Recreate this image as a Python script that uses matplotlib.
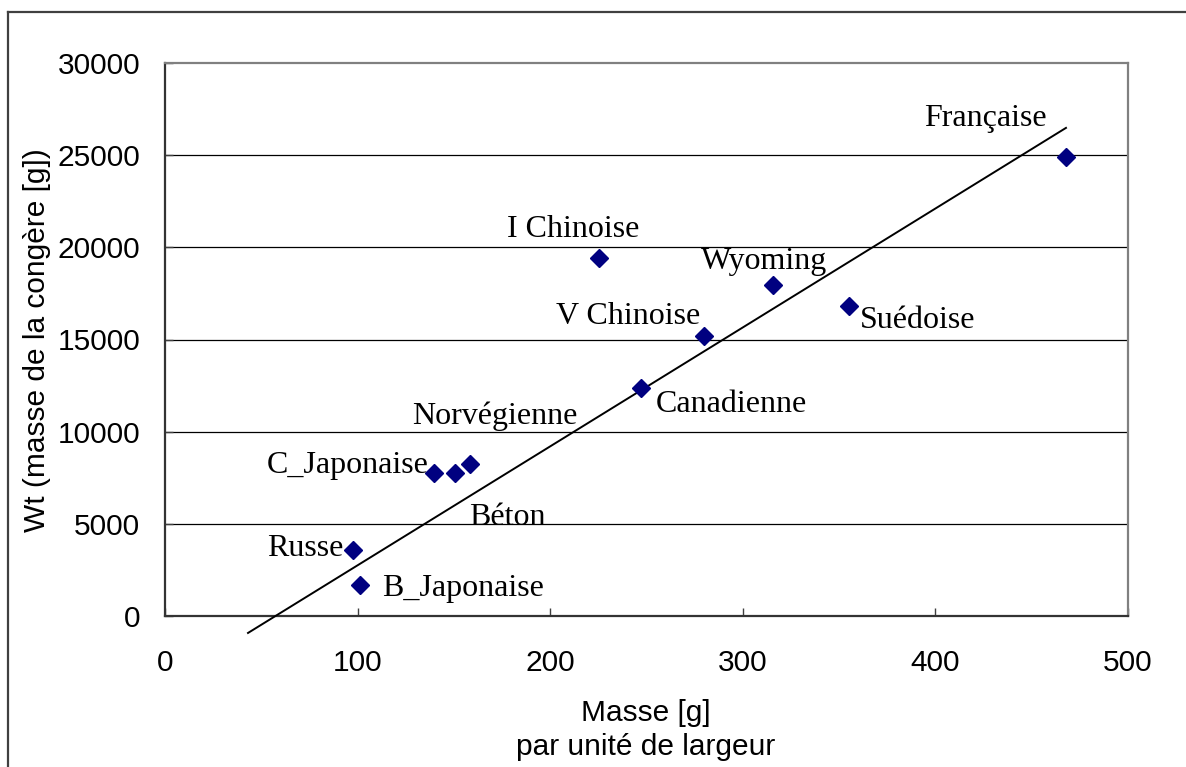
import matplotlib
matplotlib.use("Agg")
import matplotlib.pyplot as plt
from matplotlib.lines import Line2D

# data
names = ['Russe', 'B_Japonaise', 'C_Japonaise', 'Béton', 'Norvégienne',
         'I Chinoise', 'Canadienne', 'V Chinoise', 'Wyoming', 'Suédoise', 'Française']
masse = [97.6, 101.2, 139.7, 150.6, 158.4, 225.3, 247.1, 279.9, 315.7, 355.1, 467.8]
wt = [3600, 1700, 7750, 7750, 8250, 19400, 12350, 15200, 17950, 16800, 24900]

# trend line (ends as drawn)
trend_x = [43.1, 467.8]
trend_y = [-920, 26480]

xticks = [0, 100, 200, 300, 400, 500]
yticks = [0, 5000, 10000, 15000, 20000, 25000, 30000]

# label offsets from each point, in pixels
offsets = [(-48, 1), (103, -4), (-86, 8), (52, -44), (25, 48),
           (-26, 29), (90, -16), (-76, 19), (-9, 24), (69, -14), (-81, 39)]

sans = 'Liberation Sans'
serif = 'Liberation Serif'

fig = plt.figure(figsize=(11.86, 7.67), dpi=100)
ax = fig.add_axes([165/1186, 1 - 616/767, (1128-165)/1186, (616-63)/767])

# outer frame of the chart (only top and left visible)
fig.add_artist(Line2D([8/1186, 1.0], [1 - 12/767, 1 - 12/767], transform=fig.transFigure,
                      color='#404040', lw=1.6))
fig.add_artist(Line2D([8/1186, 8/1186], [0.0, 1 - 12/767], transform=fig.transFigure,
                      color='#404040', lw=1.6))

ax.set_xlim(0, 500)
ax.set_ylim(0, 30000)
ax.set_xticks(xticks)
ax.set_yticks(yticks)
ax.set_xticklabels([str(v) for v in xticks], fontsize=21.5, family=sans)
ax.set_yticklabels([str(v) for v in yticks], fontsize=21.5, family=sans)
ax.tick_params(axis='x', direction='in', length=6, width=1, color='#404040', pad=24)
ax.tick_params(axis='y', direction='in', length=6, width=1, color='#404040', pad=18)

for y in yticks[1:-1]:
    ax.axhline(y, color='black', lw=0.9, zorder=1)

ax.spines['top'].set_color('#808080')
ax.spines['right'].set_color('#808080')
ax.spines['top'].set_linewidth(1.6)
ax.spines['right'].set_linewidth(1.6)
ax.spines['left'].set_color('#333333')
ax.spines['bottom'].set_color('#333333')
ax.spines['left'].set_linewidth(1.6)
ax.spines['bottom'].set_linewidth(1.6)

ax.plot(trend_x, trend_y, color='black', lw=1.4, clip_on=False, zorder=3)
ax.plot(masse, wt, linestyle='none', marker='D', markersize=9, color='#000080', zorder=4)

for name, x, y, off in zip(names, masse, wt, offsets):
    ax.annotate(name, (x, y), xytext=off, textcoords='offset pixels',
                ha='center', va='center', fontsize=23, family=serif, zorder=5)

fig.text(646/1186, 1 - 713/767, 'Masse [g]', ha='center', va='center', fontsize=21.5, family=sans)
fig.text(646/1186, 1 - 747/767, 'par unité de largeur', ha='center', va='center', fontsize=21.5, family=sans)
fig.text(37/1186, 1 - 340/767, 'Wt (masse de la congère [g])', ha='center', va='center',
         rotation=90, fontsize=21.5, family=sans)

fig.savefig('out.png', dpi=100)
